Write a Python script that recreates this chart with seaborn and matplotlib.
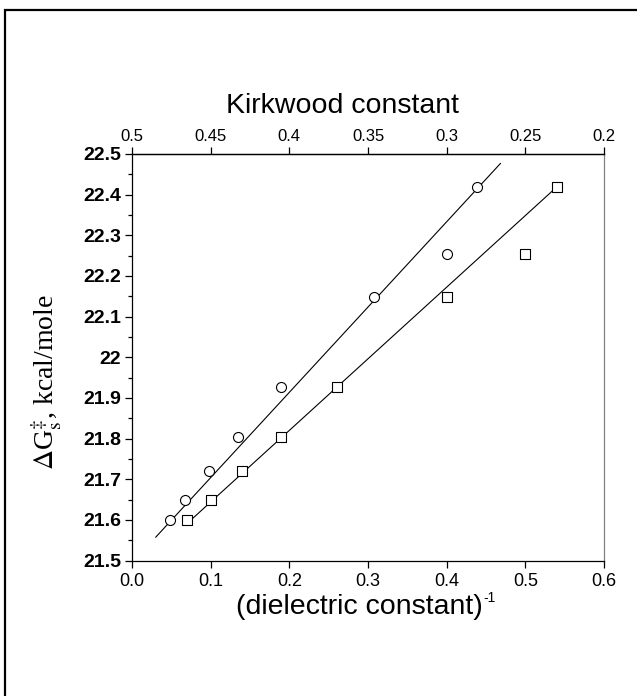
import numpy as np
import pandas as pd
import seaborn as sns
import matplotlib.pyplot as plt
from matplotlib.patches import Rectangle
from matplotlib.ticker import MultipleLocator, FormatStrFormatter

# Data
inv_eps_circle = [0.048, 0.068, 0.098, 0.135, 0.19, 0.308, 0.40, 0.439]
dg_circle = [21.60, 21.65, 21.72, 21.805, 21.927, 22.149, 22.254, 22.419]

inv_eps_square = [0.07, 0.10, 0.14, 0.19, 0.26, 0.40, 0.50, 0.54]
dg_square = [21.60, 21.65, 21.72, 21.805, 21.927, 22.149, 22.254, 22.419]

# fitted lines (end points as drawn)
fit_circle_x = [0.030, 0.4685]
fit_circle_y = [21.557, 22.477]
fit_square_x = [0.070, 0.540]
fit_square_y = [21.591, 22.419]

x_ticks = [0.0, 0.1, 0.2, 0.3, 0.4, 0.5, 0.6]
y_ticks = [21.5, 21.6, 21.7, 21.8, 21.9, 22.0, 22.1, 22.2, 22.3, 22.4, 22.5]
y_labels = ["21.5", "21.6", "21.7", "21.8", "21.9", "22", "22.1",
            "22.2", "22.3", "22.4", "22.5"]
kirkwood_ticks = [0.5, 0.45, 0.4, 0.35, 0.3, 0.25, 0.2]
kirkwood_labels = ["0.5", "0.45", "0.4", "0.35", "0.3", "0.25", "0.2"]

df_c = pd.DataFrame({"x": inv_eps_circle, "y": dg_circle})
df_s = pd.DataFrame({"x": inv_eps_square, "y": dg_square})
df_fc = pd.DataFrame({"x": fit_circle_x, "y": fit_circle_y})
df_fs = pd.DataFrame({"x": fit_square_x, "y": fit_square_y})

sns.set_style("ticks")
plt.rcParams["font.family"] = ["Liberation Sans", "DejaVu Sans"]
plt.rcParams["mathtext.fontset"] = "stix"
for key in ["text.color", "axes.labelcolor", "xtick.color", "ytick.color",
            "axes.edgecolor"]:
    plt.rcParams[key] = "black"

fig = plt.figure(figsize=(6.37, 6.96), dpi=100)
ax = fig.add_axes([132 / 637, 1 - 560.5 / 696, 472 / 637, 406.5 / 696])

# fit lines
sns.lineplot(data=df_fc, x="x", y="y", ax=ax, color="black", lw=0.8, sort=False)
sns.lineplot(data=df_fs, x="x", y="y", ax=ax, color="black", lw=0.8, sort=False)

# points
sns.scatterplot(data=df_c, x="x", y="y", ax=ax, marker="o", s=52,
                facecolor="white", edgecolor="black", linewidth=0.8, zorder=3)
sns.scatterplot(data=df_s, x="x", y="y", ax=ax, marker="s", s=44,
                facecolor="white", edgecolor="black", linewidth=0.8, zorder=3)

ax.set_xlim(0, 0.6)
ax.set_ylim(21.5, 22.5)
ax.set_xticks(x_ticks)
ax.xaxis.set_major_formatter(FormatStrFormatter("%.1f"))
ax.set_yticks(y_ticks)
ax.set_yticklabels(y_labels)
ax.yaxis.set_minor_locator(MultipleLocator(0.05))

ax.tick_params(axis="x", which="major", direction="out", length=5, width=0.9,
               labelsize=13, pad=4)
ax.tick_params(axis="y", which="major", direction="out", length=5, width=0.9,
               labelsize=14, pad=3)
ax.tick_params(axis="y", which="minor", direction="out", length=3, width=0.9)
for lab in ax.get_yticklabels():
    lab.set_fontweight("bold")

for side in ["left", "bottom", "top"]:
    ax.spines[side].set_visible(True)
    ax.spines[side].set_color("black")
    ax.spines[side].set_linewidth(0.9)
ax.spines["right"].set_visible(True)
ax.spines["right"].set_color("#808080")
ax.spines["right"].set_linewidth(0.9)

xlab = ax.set_xlabel("(dielectric constant)", fontsize=20.5)
ax.xaxis.set_label_coords(0.482, -0.083)
ax.annotate("-1", xy=(1, 1), xycoords=xlab, xytext=(0.5, 2),
            textcoords="offset points", fontsize=10, ha="left", va="top")
ax.set_ylabel(r"$\Delta$G$^{\ddagger}_{\mathrm{s}}$, kcal/mole", fontsize=20,
              family=["Liberation Serif", "DejaVu Serif"])
ax.yaxis.set_label_coords(-0.144, 0.44)

# top axis: Kirkwood constant
ax2 = ax.twiny()
ax2.set_xlim(0.5, 0.2)
ax2.set_xticks(kirkwood_ticks)
ax2.set_xticklabels(kirkwood_labels)
ax2.tick_params(axis="x", direction="out", length=5, width=0.9,
                labelsize=12, pad=2)
for side in ["left", "bottom", "right"]:
    ax2.spines[side].set_visible(False)
ax2.spines["top"].set_linewidth(0.9)
ax2.set_xlabel("Kirkwood constant", fontsize=20.5)
ax2.xaxis.set_label_coords(0.447, 1.10)

# outer frame of the original figure
fig.add_artist(Rectangle((5 / 637, -0.5), 2.0, 1.5 - 10 / 696,
                         transform=fig.transFigure, fill=False,
                         edgecolor="black", linewidth=1.6))

fig.savefig("out.png", dpi=100)
